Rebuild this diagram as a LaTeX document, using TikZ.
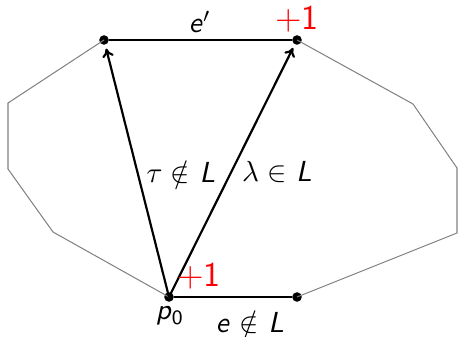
\documentclass[tikz,border=0pt]{standalone}
\usetikzlibrary{arrows.meta}
\newcommand{\sfi}[1]{\textsf{\textit{#1}}}
\begin{document}
\begin{tikzpicture}[x=0.345pt,y=-0.345pt,
  dot/.style={circle,fill=black,inner sep=0pt,minimum size=3.3pt},
  hull/.style={gray,line width=0.35pt},
  edge/.style={black,line width=0.75pt},
  arr/.style={black,line width=0.75pt,-{To[length=3pt,width=4pt]},shorten >=1.2pt},
  lbl/.style={inner sep=0pt},
  plus/.style={inner sep=0pt,text=red,font=\large\sffamily}]
\useasboundingbox (0,0) rectangle (458,337);
\node[dot] (A) at (104,40) {};
\node[dot] (B) at (297,40) {};
\node[dot] (P) at (169,297) {};
\node[dot] (C) at (297,297) {};
\coordinate (l1) at (8,103);
\coordinate (l2) at (8,169);
\coordinate (l3) at (53,232);
\coordinate (r1) at (413,104);
\coordinate (r2) at (457,168);
\coordinate (r3) at (457,233);
\draw[hull] (A.center) -- (l1) -- (l2) -- (l3) -- (P.center);
\draw[hull] (B.center) -- (r1) -- (r2) -- (r3) -- (C.center);
\draw[edge] (A) -- (B);
\draw[edge] (P) -- (C);
\draw[arr] (P.center) -- (A);
\draw[arr] (P.center) -- (B);
\node[lbl] (ep) at (200,22) {\sfi{e}$'$};
\node[plus] (pb) at (297,19) {+1};
\node[lbl] (tau) at (181,172) {$\tau\notin$ \sfi{L}};
\node[lbl] (lam) at (277,172) {$\lambda\in$ \sfi{L}};
\node[plus] (pp) at (199,276) {+1};
\node[lbl] (p0) at (170,316) {\sfi{p}$_{\mathsf{0}}$};
\node[lbl] (e) at (250,322) {\sfi{e} $\notin$ \sfi{L}};
\end{tikzpicture}
\end{document}
